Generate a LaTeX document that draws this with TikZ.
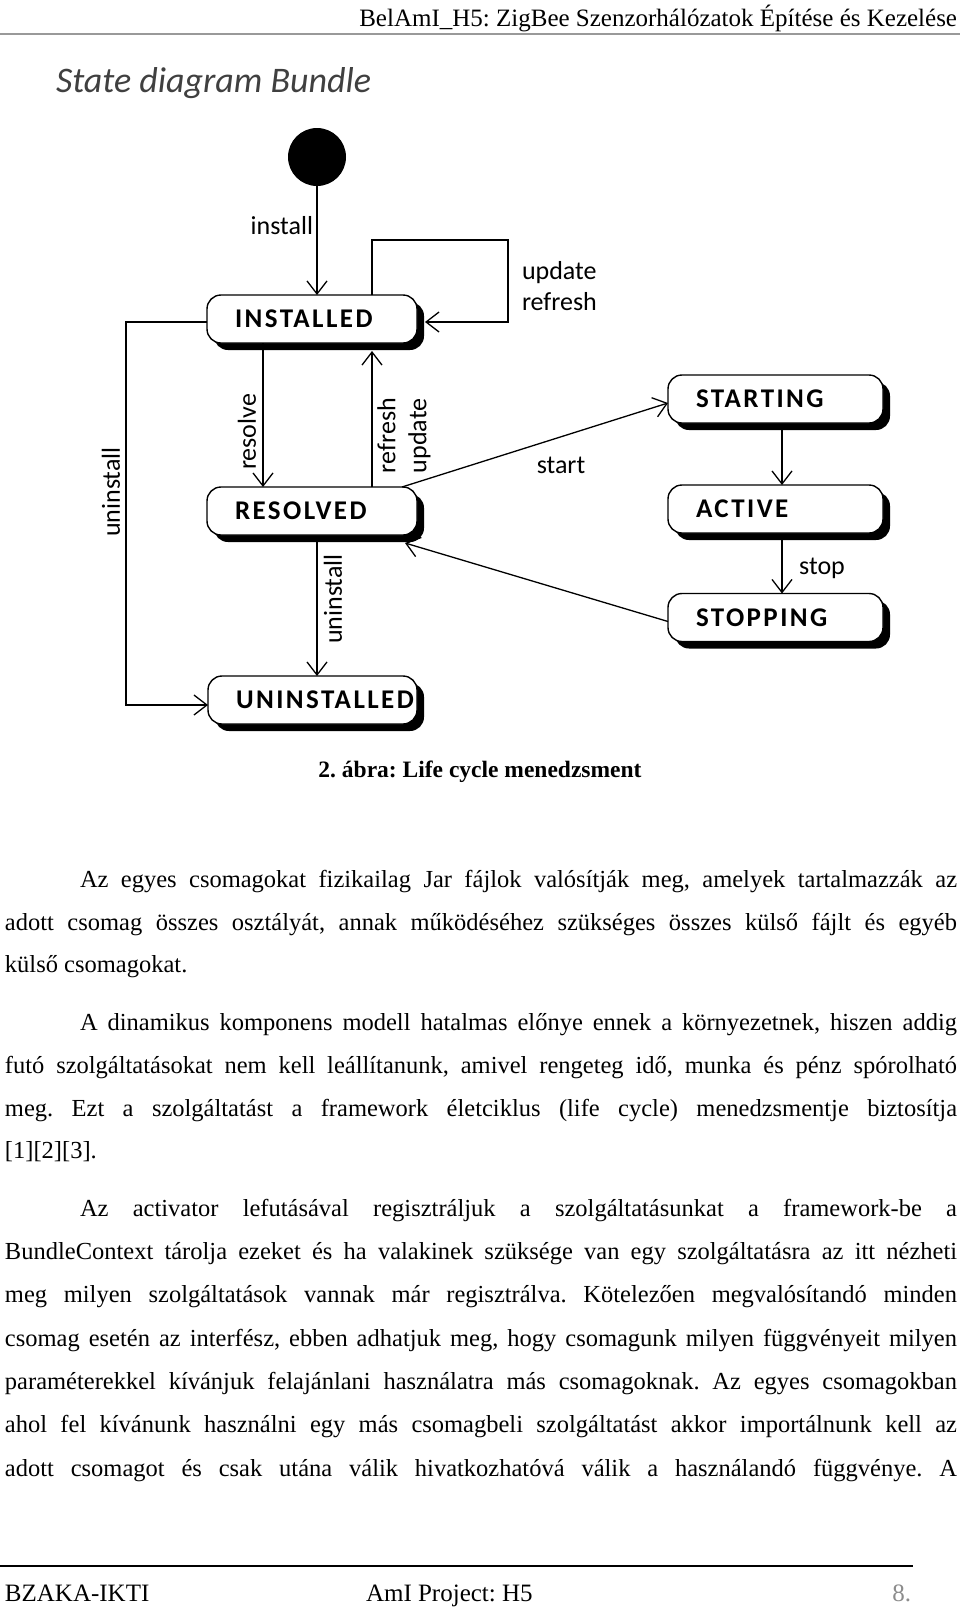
\documentclass[tikz,border=0pt]{standalone}
\usepackage{fontspec}
\setmainfont{Liberation Serif}
\newfontfamily\diag{Carlito}
\newfontfamily\stfam[LetterSpace=9]{Carlito}
\usetikzlibrary{arrows.meta,calc,shadows}
\newcommand\stlabel[2]{\makebox[#1][l]{\hspace{28pt}#2}}
\newcommand\jfull[1]{\makebox[952pt][s]{#1}}
\newcommand\jind[1]{\makebox[877pt][s]{#1}}
\frenchspacing
\begin{document}
\begin{tikzpicture}[x=1pt,y=-1pt,
  every node/.style={inner sep=0pt, outer sep=0pt},
  state/.style={draw, line width=1.4pt, fill=white, rounded corners=14pt,
    minimum height=48pt, inner sep=0pt,
    drop shadow={shadow xshift=7pt, shadow yshift=-7pt, opacity=1, fill=black},
    font=\stfam\bfseries\fontsize{27}{30}\selectfont},
  lbl/.style={font=\diag\fontsize{26}{31}\selectfont},
  arr/.style={line width=1.3pt, -{Straight Barb[length=13pt,width=20pt]}},
  body/.style={anchor=base west, font=\fontsize{24.5}{30}\selectfont},
  foot/.style={font=\fontsize{25}{30}\selectfont},
]
\fill[white] (0,0) rectangle (960,1609);
\useasboundingbox (0,0) rectangle (960,1609);

% header
\node[anchor=base east, font=\fontsize{25}{30}\selectfont] (hdr) at (957,26)
  {BelAmI\_H5: ZigBee Szenzorhálózatok Építése és Kezelése};
\draw[black!40, line width=1.5pt] (0,34) -- (960,34);

% title
\node[anchor=base west, font=\diag\itshape\fontsize{36}{40}\selectfont, text=black!75] (ttl) at (56,92) {State diagram Bundle};

% states
\node[fill=black, circle, minimum size=58pt] (init) at (317,157) {};
\node[state] (inst) at (312,319) {\stlabel{210pt}{INSTALLED}};
\node[state] (res) at (312,511) {\stlabel{210pt}{RESOLVED}};
\node[state] (unin) at (312.5,700) {\stlabel{209pt}{UNINSTALLED}};
\node[state] (strt) at (775.5,399) {\stlabel{215pt}{STARTING}};
\node[state] (act) at (775.5,509) {\stlabel{215pt}{ACTIVE}};
\node[state] (stp) at (775.5,617.5) {\stlabel{215pt}{STOPPING}};

\coordinate (loopc) at (508,240);
\coordinate (leftc) at (126,705);

% connectors
\draw[arr] (init.south) -- (init.south |- inst.north);
\draw[arr] ($(inst.north)+(60,0)$) |- (loopc) |- ($(inst.east)+(8,3)$);
\draw[arr] ($(inst.south)+(-49,0)$) -- ($(res.north)+(-49,0)$);
\draw[arr] ($(res.north)+(60,0)$) -- ($(inst.south)+(60,8)$);
\draw[arr] ($(res.north east)+(-15,0)$) -- ($(strt.west)+(0,4)$);
\draw[arr] ($(strt.south)+(6.5,7)$) -- ($(act.north)+(6.5,0)$);
\draw[arr] ($(act.south)+(6.5,7)$) -- ($(stp.north)+(6.5,0)$);
\draw[arr] ($(stp.west)+(0,4)$) -- ($(res.south east)+(-12,8)$);
\draw[arr] ($(res.south)+(5,7)$) -- ($(unin.north)+(4.5,0)$);
\draw[arr] ($(inst.west)+(0,3)$) -| (leftc) -- ($(unin.west)+(0,5)$);

% labels
\node[lbl, anchor=east] (linst) at (313,226) {install};
\node[lbl, anchor=west, align=left] (lupd) at (522,286) {update\\refresh};
\node[lbl, rotate=90] (lres) at (247,432) {resolve};
\node[lbl, rotate=90, anchor=west, align=left] (lref) at (404,473) {refresh\\update};
\node[lbl] (lstart) at (561,465) {start};
\node[lbl] (lstop) at (822,568) {stop};
\node[lbl, rotate=90] (lun2) at (333,599) {uninstall};
\node[lbl, rotate=90] (lun1) at (111,492) {uninstall};

% caption
\node[anchor=base, font=\bfseries\fontsize{23.5}{28}\selectfont] (cap) at (480,777) {2. ábra: Life cycle menedzsment};

% paragraph 1
\node[body] (p1a) at (80,887) {\jind{Az egyes csomagokat fizikailag Jar fájlok valósítják meg, amelyek tartalmazzák az}};
\node[body] (p1b) at (5,930) {\jfull{adott csomag összes osztályát, annak működéséhez szükséges összes külső fájlt és egyéb}};
\node[body] (p1c) at (5,972) {külső csomagokat.};

% paragraph 2
\node[body] (p2a) at (80,1030) {\jind{A dinamikus komponens modell hatalmas előnye ennek a környezetnek, hiszen addig}};
\node[body] (p2b) at (5,1073) {\jfull{futó szolgáltatásokat nem kell leállítanunk, amivel rengeteg idő, munka és pénz spórolható}};
\node[body] (p2c) at (5,1116) {\jfull{meg. Ezt a szolgáltatást a framework életciklus (life cycle) menedzsmentje biztosítja}};
\node[body] (p2d) at (5,1158) {[1][2][3].};

% paragraph 3
\node[body] (p3a) at (80,1216) {\jind{Az activator lefutásával regisztráljuk a szolgáltatásunkat a framework-be a}};
\node[body] (p3b) at (5,1259) {\jfull{BundleContext tárolja ezeket és ha valakinek szüksége van egy szolgáltatásra az itt nézheti}};
\node[body] (p3c) at (5,1302) {\jfull{meg milyen szolgáltatások vannak már regisztrálva. Kötelezően megvalósítandó minden}};
\node[body] (p3d) at (5,1346) {\jfull{csomag esetén az interfész, ebben adhatjuk meg, hogy csomagunk milyen függvényeit milyen}};
\node[body] (p3e) at (5,1389) {\jfull{paraméterekkel kívánjuk felajánlani használatra más csomagoknak. Az egyes csomagokban}};
\node[body] (p3f) at (5,1432) {\jfull{ahol fel kívánunk használni egy más csomagbeli szolgáltatást akkor importálnunk kell az}};
\node[body] (p3g) at (5,1476) {\jfull{adott csomagot és csak utána válik hivatkozhatóvá válik a használandó függvénye. A}};

% footer
\draw[black, line width=2pt] (0,1566) -- (913,1566);
\node[foot, anchor=base west] (f1) at (5,1601) {BZAKA-IKTI};
\node[foot, anchor=base west] (f2) at (366,1601) {AmI Project: H5};
\node[foot, anchor=base east, text=black!45] (f3) at (911,1601) {8.};
\end{tikzpicture}
\end{document}
